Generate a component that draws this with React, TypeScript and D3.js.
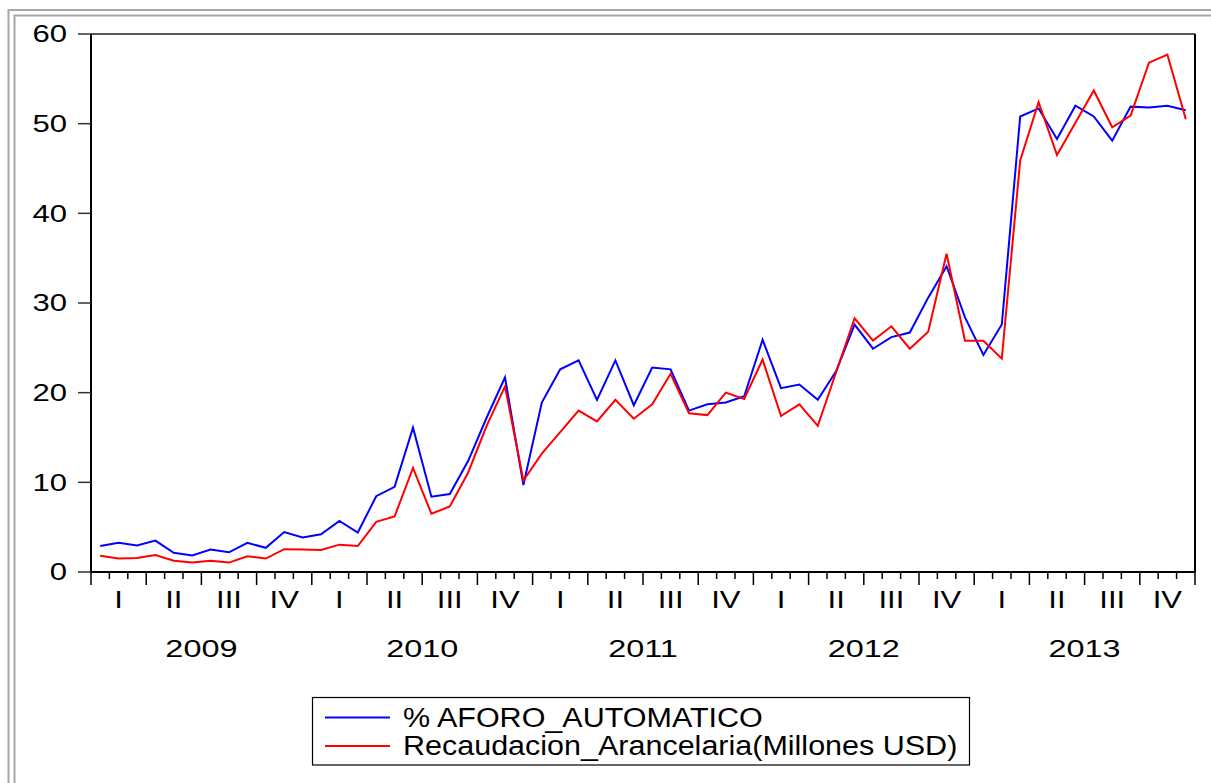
import React from "react";
import * as d3 from "d3";

const years = ["2009", "2010", "2011", "2012", "2013"];
const quarters = ["I", "II", "III", "IV"];
const yTicks = [0, 10, 20, 30, 40, 50, 60];

const aforoAutomatico = [
  2.9, 3.25, 2.95, 3.5, 2.15, 1.85, 2.5, 2.2, 3.25, 2.7, 4.45, 3.85,
  4.2, 5.7, 4.4, 8.45, 9.5, 16.1, 8.4, 8.7, 12.4, 17.2, 21.7, 9.7,
  18.9, 22.6, 23.6, 19.2, 23.6, 18.6, 22.8, 22.6, 18.0, 18.7, 18.9, 19.6,
  25.9, 20.5, 20.9, 19.2, 22.4, 27.6, 24.9, 26.2, 26.7, 30.6, 34.1, 28.4,
  24.2, 27.6, 50.8, 51.7, 48.3, 52.0, 50.8, 48.1, 51.9, 51.8, 52.0, 51.5,
];

const recaudacion = [
  1.8, 1.5, 1.55, 1.9, 1.25, 1.05, 1.25, 1.05, 1.75, 1.5, 2.55, 2.5,
  2.45, 3.05, 2.9, 5.6, 6.2, 11.6, 6.5, 7.3, 11.1, 16.3, 20.7, 10.2,
  13.2, 15.6, 18.0, 16.8, 19.2, 17.1, 18.7, 22.1, 17.7, 17.5, 20.0, 19.3,
  23.7, 17.4, 18.7, 16.3, 22.3, 28.3, 25.8, 27.4, 24.9, 26.8, 35.5, 25.8,
  25.8, 23.8, 45.9, 52.4, 46.5, 50.1, 53.7, 49.6, 50.9, 56.8, 57.7, 50.5,
];

const seriesNames = ["% AFORO_AUTOMATICO", "Recaudacion_Arancelaria(Millones USD)"];
const seriesColors = ["#0000ff", "#ff0000"];

export default function App() {
  const W = 1211;
  const H = 783;
  const left = 91;
  const right = 1195;
  const top = 34;
  const bottom = 572;
  const nMonths = aforoAutomatico.length;

  const x = d3.scaleLinear().domain([0, nMonths]).range([left, right]);
  const y = d3.scaleLinear().domain([0, 60]).range([bottom, top]);

  const line = d3
    .line<number>()
    .x((_, i) => x(i + 0.5))
    .y((d) => y(d));

  const font = "'Liberation Sans', Arial, sans-serif";
  const axisFs = 23;
  const sx = 1.35;
  const legFs = 27;
  const legSx = 1.13;

  const monthTicks = d3.range(0, nMonths + 1);
  const allSeries = [aforoAutomatico, recaudacion];

  return (
    <svg
      width={W}
      height={H}
      style={{ position: "absolute", left: 0, top: 0, background: "#fff" }}
    >
      <rect x={0} y={0} width={W} height={H} fill="#fff" />
      {/* outer double frame */}
      <rect x={8.5} y={10} width={W + 20} height={H + 20} fill="none" stroke="#a8a8a8" strokeWidth={2} />
      <rect x={14.5} y={15.5} width={W + 20} height={H + 20} fill="none" stroke="#a8a8a8" strokeWidth={2} />

      {/* data lines */}
      {allSeries.map((s, k) => (
        <path
          key={k}
          d={line(s) || ""}
          fill="none"
          stroke={seriesColors[k]}
          strokeWidth={2}
          strokeLinejoin="miter"
        />
      ))}

      {/* plot frame */}
      <line x1={left} x2={right} y1={top} y2={top} stroke="#222" strokeWidth={1.5} />
      <line x1={right} x2={right} y1={top} y2={bottom} stroke="#000" strokeWidth={2} />
      <line x1={left} x2={left} y1={top} y2={bottom} stroke="#000" strokeWidth={2} />
      <line x1={left} x2={right} y1={bottom} y2={bottom} stroke="#000" strokeWidth={2} />

      {/* y axis */}
      {yTicks.map((t) => (
        <g key={t}>
          <line x1={78} x2={left} y1={y(t)} y2={y(t)} stroke="#333" strokeWidth={1.5} />
          <text
            transform={`translate(67, ${y(t)}) scale(${sx}, 1)`}
            dy="0.36em"
            textAnchor="end"
            fontFamily={font}
            fontSize={axisFs}
            fill="#000"
          >
            {t}
          </text>
        </g>
      ))}

      {/* x axis ticks */}
      {monthTicks.map((k) => (
        <line
          key={k}
          x1={x(k)}
          x2={x(k)}
          y1={bottom}
          y2={k % 3 === 0 ? 585 : 579}
          stroke="#000"
          strokeWidth={1.5}
        />
      ))}

      {/* quarter labels */}
      {years.map((yr, yi) =>
        quarters.map((q, qi) => (
          <text
            key={`${yr}-${q}`}
            transform={`translate(${x(yi * 12 + qi * 3 + 1.5)}, 608) scale(${sx}, 1)`}
            textAnchor="middle"
            fontFamily={font}
            fontSize={axisFs}
            fill="#000"
          >
            {q}
          </text>
        ))
      )}

      {/* year labels */}
      {years.map((yr, yi) => (
        <text
          key={yr}
          transform={`translate(${x(yi * 12 + 6)}, 656.5) scale(${sx}, 1)`}
          textAnchor="middle"
          fontFamily={font}
          fontSize={24}
          fill="#000"
        >
          {yr}
        </text>
      ))}

      {/* legend */}
      <rect x={312.5} y={697.5} width={657} height={67.5} fill="#fff" stroke="#000" strokeWidth={1.2} />
      {seriesNames.map((nm, k) => (
        <g key={nm}>
          <line x1={325} x2={390} y1={717.5 + k * 28.5} y2={717.5 + k * 28.5} stroke={seriesColors[k]} strokeWidth={2} />
          <text
            transform={`translate(403, ${726.5 + k * 28.5}) scale(${legSx}, 1)`}
            fontFamily={font}
            fontSize={legFs}
            fill="#000"
          >
            {nm}
          </text>
        </g>
      ))}
    </svg>
  );
}
